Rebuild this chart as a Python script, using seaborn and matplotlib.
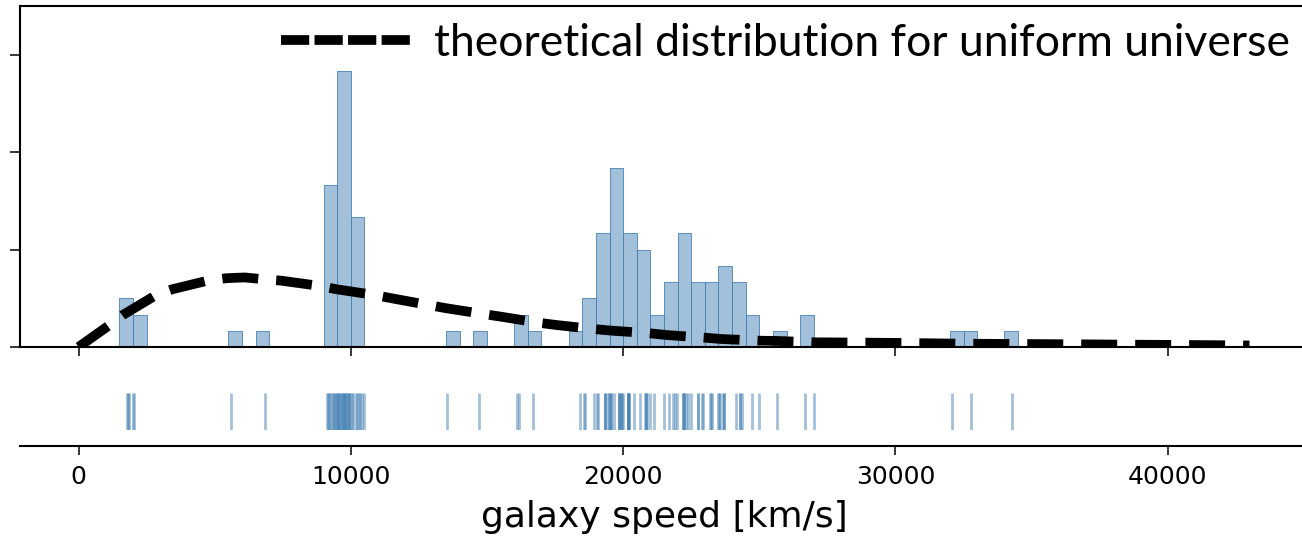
import numpy as np
import matplotlib
matplotlib.use("Agg")
import matplotlib.pyplot as plt
from matplotlib.lines import Line2D
import seaborn as sns

# galaxy speeds [km/s] (120 galaxies)
speeds = [
    1790, 1820, 1850, 2010, 2040,
    5610, 6860,
    9130, 9172, 9200, 9240, 9290, 9350, 9380, 9420, 9460, 9483,
    9510, 9540, 9558, 9600, 9630, 9660, 9700, 9720, 9750, 9775, 9800, 9830, 9860, 9890, 9920, 9950, 9980,
    10030, 10070, 10180, 10227, 10300, 10350, 10406, 10470,
    13530, 14700, 16084, 16170, 16690,
    18419, 18552, 18600, 18927,
    19052, 19070, 19330, 19343, 19349, 19440, 19473,
    19529, 19541, 19547, 19663, 19846, 19856, 19863, 19914, 19918, 19973, 19989,
    20166, 20175, 20179, 20196, 20215, 20221, 20415,
    20629, 20795, 20821, 20846, 20875, 20986,
    21137, 21492, 21701, 21814, 21921, 21960,
    22185, 22209, 22242, 22249, 22314, 22374, 22495,
    22746, 22747, 22888, 22914,
    23206, 23241, 23263, 23484,
    23538, 23542, 23666, 23706, 23711,
    24129, 24285, 24289, 24366, 24717, 24990,
    25633, 26690, 26995,
    32065, 32789, 34279,
]

# theoretical distribution for a uniform universe (speed km/s, density in 1e-5 per km/s)
curve_speed = [0, 1140, 1630, 2850, 3450, 4740, 5420, 6100, 6770, 7440, 8850, 9460,
               10870, 11480, 12830, 13500, 14850, 15520, 16870, 17540, 18890, 19560,
               20970, 21580, 22990, 23600, 25000, 25680, 27030, 28400, 30400, 32450,
               34500, 36500, 38560, 40600, 42460, 43000]
curve_density_e5 = [0.0, 2.26, 3.29, 5.34, 5.93, 6.81, 7.06, 7.14, 6.96, 6.81, 6.27, 5.93,
                    5.34, 5.01, 4.32, 3.98, 3.39, 3.11, 2.50, 2.26, 1.85, 1.68,
                    1.41, 1.23, 0.96, 0.82, 0.65, 0.62, 0.48, 0.46, 0.41, 0.34,
                    0.31, 0.28, 0.24, 0.21, 0.17, 0.16]

x_ticks = [0, 10000, 20000, 30000, 40000]
y_ticks = [0, 1e-4, 2e-4, 3e-4]

legend_label = "theoretical distribution for uniform universe"
x_label = "galaxy speed [km/s]"

sns.set_style("ticks")
plt.rcParams["font.family"] = ["DejaVu Sans"]
plt.rcParams.update({
    "text.color": "black", "axes.labelcolor": "black", "axes.edgecolor": "black",
    "xtick.color": "black", "ytick.color": "black",
})

W, H = 1302, 539
fig = plt.figure(figsize=(W / 100, H / 100), dpi=100)

ax = fig.add_axes([20 / W, 192 / H, 1288 / W, 341 / H])
ax2 = fig.add_axes([20 / W, 109 / H, 1288 / W, 37 / H])

bar_color = "steelblue"
sns.histplot(x=speeds, binwidth=500, binrange=(1500, 34500), stat="density",
             color=bar_color, alpha=0.5, edgecolor=bar_color, linewidth=0.6, ax=ax)

curve = np.array(curve_density_e5) * 1e-5
sns.lineplot(x=curve_speed, y=curve, ax=ax, color="black", lw=7,
             linestyle=(0, (3.7, 1.85)), dash_capstyle="butt")

xlim = (-2150, 45150)
ax.set_xlim(xlim)
ax.set_ylim(0, 3.5e-4)
ax.set_xticks(x_ticks)
ax.set_yticks(y_ticks)
ax.tick_params(axis="x", labelbottom=False, length=6.5, width=1.1)
ax.tick_params(axis="y", labelleft=False, length=7, width=1.1)
ax.set_xlabel("")
ax.set_ylabel("")
for s in ["top", "left", "bottom", "right"]:
    ax.spines[s].set_linewidth(1.5)

handle = Line2D([], [], color="black", lw=7, linestyle=(0, (2.9, 0.55)), dash_capstyle="butt")
ax.legend([handle], [legend_label], loc="center right",
          bbox_to_anchor=(1290 / W, 496 / H), bbox_transform=fig.transFigure,
          frameon=False, borderpad=0, borderaxespad=0,
          prop={"family": ["Lato", "DejaVu Sans"], "size": 32},
          handlelength=3.0, handletextpad=0.45)

sns.rugplot(x=speeds, ax=ax2, height=1, color=bar_color, alpha=0.5, linewidth=2)
ax2.set_xlim(xlim)
ax2.set_ylim(0, 1)
ax2.set_yticks([])
ax2.set_xticks(x_ticks)
ax2.set_xticklabels([str(t) for t in x_ticks])
for s in ["top", "left", "right"]:
    ax2.spines[s].set_visible(False)
ax2.spines["bottom"].set_linewidth(1.5)
ax2.spines["bottom"].set_position(("outward", 11.5))
ax2.tick_params(axis="x", labelsize=18, length=6.5, width=1.1, pad=7)
ax2.set_xlabel(x_label, fontsize=26, labelpad=8)
ax2.set_ylabel("")

fig.savefig("out.png", dpi=100)
